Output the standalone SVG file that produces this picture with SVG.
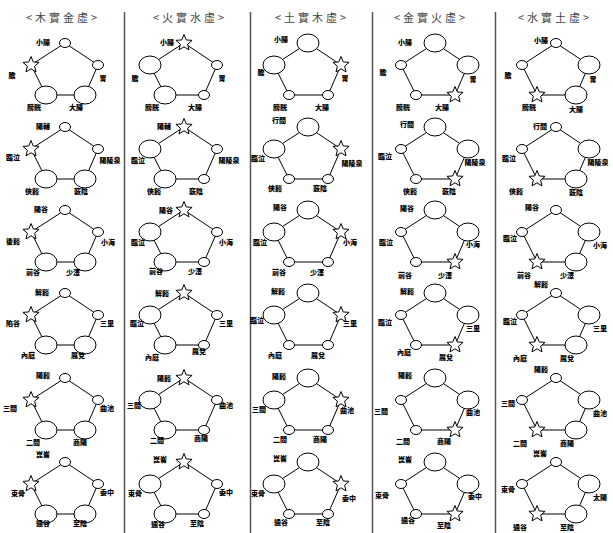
<svg xmlns="http://www.w3.org/2000/svg" xmlns:xlink="http://www.w3.org/1999/xlink" width="613" height="533" viewBox="0 0 613 533">
<style>
.n{fill:#fff;stroke:#000;stroke-width:1}
.e{fill:none;stroke:#000;stroke-width:1}
.lb{font-family:"Noto Sans CJK TC","Noto Sans CJK JP",sans-serif;font-size:7px;font-weight:900;text-anchor:middle;fill:#000}
.hd{font-family:"Noto Sans CJK TC","Noto Sans CJK JP",sans-serif;font-size:11px;letter-spacing:3px;text-anchor:middle;fill:#444}
.dv{stroke:#555;stroke-width:1.5}
</style>
<defs>
<ellipse id="sm" class="n" rx="5.5" ry="4.5"/>
<ellipse id="lg" class="n" rx="11" ry="9"/>
<polygon id="st" class="n" points="0,-8.5 2.23,-3.07 8.08,-2.63 3.61,1.17 5,6.88 0,3.8 -5,6.88 -3.61,1.17 -8.08,-2.63 -2.23,-3.07"/>
<polygon id="pent" class="e" points="0,-29 33,-7 20,23 -19,23 -34,-7"/>
</defs>
<g id="headers">
<text class="hd" x="63" y="22">&lt;木實金虛&gt;</text>
<text class="hd" x="190" y="22">&lt;火實水虛&gt;</text>
<text class="hd" x="312" y="22">&lt;土實木虛&gt;</text>
<text class="hd" x="431" y="22">&lt;金實火虛&gt;</text>
<text class="hd" x="555" y="22">&lt;水實土虛&gt;</text>
</g>
<g id="dividers">
<line class="dv" x1="124.5" y1="12" x2="124.5" y2="533"/>
<line class="dv" x1="250.5" y1="12" x2="250.5" y2="533"/>
<line class="dv" x1="372.5" y1="12" x2="372.5" y2="533"/>
<line class="dv" x1="495.5" y1="12" x2="495.5" y2="533"/>
</g>
<g id="connectors">
<use href="#pent" x="65" y="72"/><use href="#pent" x="65" y="156"/><use href="#pent" x="65" y="239"/><use href="#pent" x="65" y="322"/><use href="#pent" x="65" y="407"/><use href="#pent" x="65" y="491"/>
<use href="#pent" x="184" y="72"/><use href="#pent" x="184" y="156"/><use href="#pent" x="184" y="239"/><use href="#pent" x="184" y="322"/><use href="#pent" x="184" y="407"/><use href="#pent" x="184" y="491"/>
<use href="#pent" x="308" y="72"/><use href="#pent" x="308" y="156"/><use href="#pent" x="308" y="239"/><use href="#pent" x="308" y="322"/><use href="#pent" x="308" y="407"/><use href="#pent" x="308" y="491"/>
<use href="#pent" x="435" y="72"/><use href="#pent" x="435" y="156"/><use href="#pent" x="435" y="239"/><use href="#pent" x="435" y="322"/><use href="#pent" x="435" y="407"/><use href="#pent" x="435" y="491"/>
<use href="#pent" x="556" y="72"/><use href="#pent" x="556" y="156"/><use href="#pent" x="556" y="239"/><use href="#pent" x="556" y="322"/><use href="#pent" x="556" y="407"/><use href="#pent" x="556" y="491"/>
</g>

<!-- Column 1: T sm, R sm, BR lg, BL lg, L star -->
<g id="c1r1" transform="translate(65,72)">
<g id="c1r1-t"><use href="#sm" y="-29"/><text class="lb" x="-22" y="-27">小腸</text></g>
<g id="c1r1-r"><use href="#sm" x="33" y="-7"/><text class="lb" x="38" y="9">胃</text></g>
<g id="c1r1-br"><use href="#lg" x="20" y="23"/><text class="lb" x="11" y="38">大腸</text></g>
<g id="c1r1-bl"><use href="#lg" x="-19" y="23"/><text class="lb" x="-31" y="38">膀胱</text></g>
<g id="c1r1-l"><use href="#st" x="-34" y="-7"/><text class="lb" x="-53" y="6">膽</text></g>
</g>
<g id="c1r2" transform="translate(65,156)">
<g id="c1r2-t"><use href="#sm" y="-29"/><text class="lb" x="-22" y="-27">陽輔</text></g>
<g id="c1r2-r"><use href="#sm" x="33" y="-7"/><text class="lb" x="45" y="7">陽陵泉</text></g>
<g id="c1r2-br"><use href="#lg" x="20" y="23"/><text class="lb" x="16" y="38">竅陰</text></g>
<g id="c1r2-bl"><use href="#lg" x="-19" y="23"/><text class="lb" x="-33" y="38">俠谿</text></g>
<g id="c1r2-l"><use href="#st" x="-34" y="-7"/><text class="lb" x="-52" y="4">臨泣</text></g>
</g>
<g id="c1r3" transform="translate(65,239)">
<g id="c1r3-t"><use href="#sm" y="-29"/><text class="lb" x="-24" y="-27">陽谷</text></g>
<g id="c1r3-r"><use href="#sm" x="33" y="-7"/><text class="lb" x="43" y="6">小海</text></g>
<g id="c1r3-br"><use href="#lg" x="20" y="23"/><text class="lb" x="8" y="36">少澤</text></g>
<g id="c1r3-bl"><use href="#lg" x="-19" y="23"/><text class="lb" x="-32" y="36">前谷</text></g>
<g id="c1r3-l"><use href="#st" x="-34" y="-7"/><text class="lb" x="-52" y="5">後谿</text></g>
</g>
<g id="c1r4" transform="translate(65,322)">
<g id="c1r4-t"><use href="#sm" y="-29"/><text class="lb" x="-23" y="-27">解谿</text></g>
<g id="c1r4-r"><use href="#sm" x="33" y="-7"/><text class="lb" x="42" y="4">三里</text></g>
<g id="c1r4-br"><use href="#lg" x="20" y="23"/><text class="lb" x="13" y="36">厲兌</text></g>
<g id="c1r4-bl"><use href="#lg" x="-19" y="23"/><text class="lb" x="-37" y="36">內庭</text></g>
<g id="c1r4-l"><use href="#st" x="-34" y="-7"/><text class="lb" x="-52" y="4">陷谷</text></g>
</g>
<g id="c1r5" transform="translate(65,407)">
<g id="c1r5-t"><use href="#sm" y="-29"/><text class="lb" x="-22" y="-29">陽谿</text></g>
<g id="c1r5-r"><use href="#sm" x="33" y="-7"/><text class="lb" x="42" y="4">曲池</text></g>
<g id="c1r5-br"><use href="#lg" x="20" y="23"/><text class="lb" x="15" y="38">商陽</text></g>
<g id="c1r5-bl"><use href="#lg" x="-19" y="23"/><text class="lb" x="-32" y="38">二間</text></g>
<g id="c1r5-l"><use href="#st" x="-34" y="-7"/><text class="lb" x="-55" y="4">三間</text></g>
</g>
<g id="c1r6" transform="translate(65,491)">
<g id="c1r6-t"><use href="#sm" y="-29"/><text class="lb" x="-22" y="-34">崑崙</text></g>
<g id="c1r6-r"><use href="#sm" x="33" y="-7"/><text class="lb" x="42" y="4">委中</text></g>
<g id="c1r6-br"><use href="#lg" x="20" y="23"/><text class="lb" x="15" y="35">至陰</text></g>
<g id="c1r6-bl"><use href="#lg" x="-19" y="23"/><text class="lb" x="-22" y="35">通谷</text></g>
<g id="c1r6-l"><use href="#st" x="-34" y="-7"/><text class="lb" x="-47" y="5">束骨</text></g>
</g>

<!-- Column 2: T star, R sm, BR sm, BL lg, L lg -->
<g id="c2r1" transform="translate(184,72)">
<g id="c2r1-t"><use href="#st" y="-29"/><text class="lb" x="-17" y="-27">小腸</text></g>
<g id="c2r1-r"><use href="#sm" x="33" y="-7"/><text class="lb" x="38" y="9">胃</text></g>
<g id="c2r1-br"><use href="#sm" x="20" y="23"/><text class="lb" x="11" y="38">大腸</text></g>
<g id="c2r1-bl"><use href="#lg" x="-19" y="23"/><text class="lb" x="-32" y="38">膀胱</text></g>
<g id="c2r1-l"><use href="#lg" x="-34" y="-7"/><text class="lb" x="-49" y="9">膽</text></g>
</g>
<g id="c2r2" transform="translate(184,156)">
<g id="c2r2-t"><use href="#st" y="-29"/><text class="lb" x="-20" y="-27">陽輔</text></g>
<g id="c2r2-r"><use href="#sm" x="33" y="-7"/><text class="lb" x="45" y="7">陽陵泉</text></g>
<g id="c2r2-br"><use href="#sm" x="20" y="23"/><text class="lb" x="12" y="38">竅陰</text></g>
<g id="c2r2-bl"><use href="#lg" x="-19" y="23"/><text class="lb" x="-30" y="38">俠谿</text></g>
<g id="c2r2-l"><use href="#lg" x="-34" y="-7"/><text class="lb" x="-46" y="7">臨泣</text></g>
</g>
<g id="c2r3" transform="translate(184,239)">
<g id="c2r3-t"><use href="#st" y="-29"/><text class="lb" x="-18" y="-26">陽谷</text></g>
<g id="c2r3-r"><use href="#sm" x="33" y="-7"/><text class="lb" x="42" y="6">小海</text></g>
<g id="c2r3-br"><use href="#sm" x="20" y="23"/><text class="lb" x="11" y="35">少澤</text></g>
<g id="c2r3-bl"><use href="#lg" x="-19" y="23"/><text class="lb" x="-28" y="35">前谷</text></g>
<g id="c2r3-l"><use href="#lg" x="-34" y="-7"/><text class="lb" x="-46" y="6">臨泣</text></g>
</g>
<g id="c2r4" transform="translate(184,322)">
<g id="c2r4-t"><use href="#st" y="-29"/><text class="lb" x="-22" y="-26">解谿</text></g>
<g id="c2r4-r"><use href="#sm" x="33" y="-7"/><text class="lb" x="42" y="4">三里</text></g>
<g id="c2r4-br"><use href="#sm" x="20" y="23"/><text class="lb" x="15" y="32">厲兌</text></g>
<g id="c2r4-bl"><use href="#lg" x="-19" y="23"/><text class="lb" x="-32" y="38">內庭</text></g>
<g id="c2r4-l"><use href="#lg" x="-34" y="-7"/><text class="lb" x="-47" y="4">臨泣</text></g>
</g>
<g id="c2r5" transform="translate(184,407)">
<g id="c2r5-t"><use href="#st" y="-29"/><text class="lb" x="-20" y="-26">陽谿</text></g>
<g id="c2r5-r"><use href="#sm" x="33" y="-7"/><text class="lb" x="42" y="1">曲池</text></g>
<g id="c2r5-br"><use href="#sm" x="20" y="23"/><text class="lb" x="17" y="34">商陽</text></g>
<g id="c2r5-bl"><use href="#lg" x="-19" y="23"/><text class="lb" x="-27" y="36">二間</text></g>
<g id="c2r5-l"><use href="#lg" x="-34" y="-7"/><text class="lb" x="-50" y="1">三間</text></g>
</g>
<g id="c2r6" transform="translate(184,491)">
<g id="c2r6-t"><use href="#st" y="-29"/><text class="lb" x="-24" y="-29">崑崙</text></g>
<g id="c2r6-r"><use href="#sm" x="33" y="-7"/><text class="lb" x="42" y="4">委中</text></g>
<g id="c2r6-br"><use href="#sm" x="20" y="23"/><text class="lb" x="13" y="35">至陰</text></g>
<g id="c2r6-bl"><use href="#lg" x="-19" y="23"/><text class="lb" x="-26" y="36">通谷</text></g>
<g id="c2r6-l"><use href="#lg" x="-34" y="-7"/><text class="lb" x="-49" y="5">束骨</text></g>
</g>

<!-- Column 3: T lg, R star, BR sm, BL sm, L lg -->
<g id="c3r1" transform="translate(308,72)">
<g id="c3r1-t"><use href="#lg" y="-29"/><text class="lb" x="-27" y="-30">小腸</text></g>
<g id="c3r1-r"><use href="#st" x="33" y="-7"/><text class="lb" x="37" y="9">胃</text></g>
<g id="c3r1-br"><use href="#sm" x="20" y="23"/><text class="lb" x="14" y="38">大腸</text></g>
<g id="c3r1-bl"><use href="#sm" x="-19" y="23"/><text class="lb" x="-28" y="38">膀胱</text></g>
<g id="c3r1-l"><use href="#lg" x="-34" y="-7"/><text class="lb" x="-47" y="3">膽</text></g>
</g>
<g id="c3r2" transform="translate(308,156)">
<g id="c3r2-t"><use href="#lg" y="-29"/><text class="lb" x="-29" y="-33">行間</text></g>
<g id="c3r2-r"><use href="#st" x="33" y="-7"/><text class="lb" x="44" y="10">陽陵泉</text></g>
<g id="c3r2-br"><use href="#sm" x="20" y="23"/><text class="lb" x="12" y="35">竅陰</text></g>
<g id="c3r2-bl"><use href="#sm" x="-19" y="23"/><text class="lb" x="-33" y="35">俠谿</text></g>
<g id="c3r2-l"><use href="#lg" x="-34" y="-7"/><text class="lb" x="-50" y="5">臨泣</text></g>
</g>
<g id="c3r3" transform="translate(308,239)">
<g id="c3r3-t"><use href="#lg" y="-29"/><text class="lb" x="-28" y="-29">陽谷</text></g>
<g id="c3r3-r"><use href="#st" x="33" y="-7"/><text class="lb" x="42" y="6">小海</text></g>
<g id="c3r3-br"><use href="#sm" x="20" y="23"/><text class="lb" x="9" y="36">少澤</text></g>
<g id="c3r3-bl"><use href="#sm" x="-19" y="23"/><text class="lb" x="-29" y="36">前谷</text></g>
<g id="c3r3-l"><use href="#lg" x="-34" y="-7"/><text class="lb" x="-48" y="6">臨泣</text></g>
</g>
<g id="c3r4" transform="translate(308,322)">
<g id="c3r4-t"><use href="#lg" y="-29"/><text class="lb" x="-30" y="-28">解谿</text></g>
<g id="c3r4-r"><use href="#st" x="33" y="-7"/><text class="lb" x="42" y="4">三里</text></g>
<g id="c3r4-br"><use href="#sm" x="20" y="23"/><text class="lb" x="10" y="36">厲兌</text></g>
<g id="c3r4-bl"><use href="#sm" x="-19" y="23"/><text class="lb" x="-33" y="36">內庭</text></g>
<g id="c3r4-l"><use href="#lg" x="-34" y="-7"/><text class="lb" x="-51" y="1">臨泣</text></g>
</g>
<g id="c3r5" transform="translate(308,407)">
<g id="c3r5-t"><use href="#lg" y="-29"/><text class="lb" x="-29" y="-28">陽谿</text></g>
<g id="c3r5-r"><use href="#st" x="33" y="-7"/><text class="lb" x="39" y="6">曲池</text></g>
<g id="c3r5-br"><use href="#sm" x="20" y="23"/><text class="lb" x="12" y="35">商陽</text></g>
<g id="c3r5-bl"><use href="#sm" x="-19" y="23"/><text class="lb" x="-28" y="35">二間</text></g>
<g id="c3r5-l"><use href="#lg" x="-34" y="-7"/><text class="lb" x="-49" y="5">三間</text></g>
</g>
<g id="c3r6" transform="translate(308,491)">
<g id="c3r6-t"><use href="#lg" y="-29"/><text class="lb" x="-28" y="-30">崑崙</text></g>
<g id="c3r6-r"><use href="#st" x="33" y="-7"/><text class="lb" x="41" y="10">委中</text></g>
<g id="c3r6-br"><use href="#sm" x="20" y="23"/><text class="lb" x="15" y="34">至陰</text></g>
<g id="c3r6-bl"><use href="#sm" x="-19" y="23"/><text class="lb" x="-27" y="34">通谷</text></g>
<g id="c3r6-l"><use href="#lg" x="-34" y="-7"/><text class="lb" x="-50" y="5">束骨</text></g>
</g>

<!-- Column 4: T lg, R lg, BR star, BL sm, L sm -->
<g id="c4r1" transform="translate(435,72)">
<g id="c4r1-t"><use href="#lg" y="-29"/><text class="lb" x="-30" y="-27">小腸</text></g>
<g id="c4r1-r"><use href="#lg" x="33" y="-7"/><text class="lb" x="38" y="10">胃</text></g>
<g id="c4r1-br"><use href="#st" x="20" y="23"/><text class="lb" x="7" y="38">大腸</text></g>
<g id="c4r1-bl"><use href="#sm" x="-19" y="23"/><text class="lb" x="-32" y="38">膀胱</text></g>
<g id="c4r1-l"><use href="#sm" x="-34" y="-7"/><text class="lb" x="-52" y="3">膽</text></g>
</g>
<g id="c4r2" transform="translate(435,156)">
<g id="c4r2-t"><use href="#lg" y="-29"/><text class="lb" x="-28" y="-29">行間</text></g>
<g id="c4r2-r"><use href="#lg" x="33" y="-7"/><text class="lb" x="40" y="9">陽陵泉</text></g>
<g id="c4r2-br"><use href="#st" x="20" y="23"/><text class="lb" x="14" y="38">竅陰</text></g>
<g id="c4r2-bl"><use href="#sm" x="-19" y="23"/><text class="lb" x="-25" y="38">俠谿</text></g>
<g id="c4r2-l"><use href="#sm" x="-34" y="-7"/><text class="lb" x="-50" y="3">臨泣</text></g>
</g>
<g id="c4r3" transform="translate(435,239)">
<g id="c4r3-t"><use href="#lg" y="-29"/><text class="lb" x="-28" y="-28">陽谷</text></g>
<g id="c4r3-r"><use href="#lg" x="33" y="-7"/><text class="lb" x="38" y="8">小海</text></g>
<g id="c4r3-br"><use href="#st" x="20" y="23"/><text class="lb" x="10" y="39">少澤</text></g>
<g id="c4r3-bl"><use href="#sm" x="-19" y="23"/><text class="lb" x="-30" y="39">前谷</text></g>
<g id="c4r3-l"><use href="#sm" x="-34" y="-7"/><text class="lb" x="-49" y="6">臨泣</text></g>
</g>
<g id="c4r4" transform="translate(435,322)">
<g id="c4r4-t"><use href="#lg" y="-29"/><text class="lb" x="-28" y="-28">解谿</text></g>
<g id="c4r4-r"><use href="#lg" x="33" y="-7"/><text class="lb" x="38" y="9">三里</text></g>
<g id="c4r4-br"><use href="#st" x="20" y="23"/><text class="lb" x="11" y="38">厲兌</text></g>
<g id="c4r4-bl"><use href="#sm" x="-19" y="23"/><text class="lb" x="-31" y="33">內庭</text></g>
<g id="c4r4-l"><use href="#sm" x="-34" y="-7"/><text class="lb" x="-50" y="3">臨泣</text></g>
</g>
<g id="c4r5" transform="translate(435,407)">
<g id="c4r5-t"><use href="#lg" y="-29"/><text class="lb" x="-30" y="-29">陽谿</text></g>
<g id="c4r5-r"><use href="#lg" x="33" y="-7"/><text class="lb" x="38" y="8">曲池</text></g>
<g id="c4r5-br"><use href="#st" x="20" y="23"/><text class="lb" x="9" y="37">商陽</text></g>
<g id="c4r5-bl"><use href="#sm" x="-19" y="23"/><text class="lb" x="-32" y="37">二間</text></g>
<g id="c4r5-l"><use href="#sm" x="-34" y="-7"/><text class="lb" x="-54" y="7">三間</text></g>
</g>
<g id="c4r6" transform="translate(435,491)">
<g id="c4r6-t"><use href="#lg" y="-29"/><text class="lb" x="-30" y="-29">崑崙</text></g>
<g id="c4r6-r"><use href="#lg" x="33" y="-7"/><text class="lb" x="40" y="8">委中</text></g>
<g id="c4r6-br"><use href="#st" x="20" y="23"/><text class="lb" x="9" y="37">至陰</text></g>
<g id="c4r6-bl"><use href="#sm" x="-19" y="23"/><text class="lb" x="-27" y="32">通谷</text></g>
<g id="c4r6-l"><use href="#sm" x="-34" y="-7"/><text class="lb" x="-53" y="7">束骨</text></g>
</g>

<!-- Column 5: T sm, R lg, BR lg, BL star, L sm -->
<g id="c5r1" transform="translate(556,72)">
<g id="c5r1-t"><use href="#sm" y="-29"/><text class="lb" x="-15" y="-29">小腸</text></g>
<g id="c5r1-r"><use href="#lg" x="33" y="-7"/><text class="lb" x="37" y="10">胃</text></g>
<g id="c5r1-br"><use href="#lg" x="20" y="23"/><text class="lb" x="20" y="40">大腸</text></g>
<g id="c5r1-bl"><use href="#st" x="-19" y="23"/><text class="lb" x="-27" y="38">膀胱</text></g>
<g id="c5r1-l"><use href="#sm" x="-34" y="-7"/><text class="lb" x="-48" y="6">膽</text></g>
</g>
<g id="c5r2" transform="translate(556,156)">
<g id="c5r2-t"><use href="#sm" y="-29"/><text class="lb" x="-16" y="-27">行間</text></g>
<g id="c5r2-r"><use href="#lg" x="33" y="-7"/><text class="lb" x="42" y="9">陽陵泉</text></g>
<g id="c5r2-br"><use href="#lg" x="20" y="23"/><text class="lb" x="20" y="39">竅陰</text></g>
<g id="c5r2-bl"><use href="#st" x="-19" y="23"/><text class="lb" x="-40" y="38">俠谿</text></g>
<g id="c5r2-l"><use href="#sm" x="-34" y="-7"/><text class="lb" x="-47" y="5">臨泣</text></g>
</g>
<g id="c5r3" transform="translate(556,239)">
<g id="c5r3-t"><use href="#sm" y="-29"/><text class="lb" x="-24" y="-29">陽谷</text></g>
<g id="c5r3-r"><use href="#lg" x="33" y="-7"/><text class="lb" x="44" y="9">小海</text></g>
<g id="c5r3-br"><use href="#lg" x="20" y="23"/><text class="lb" x="11" y="39">少澤</text></g>
<g id="c5r3-bl"><use href="#st" x="-19" y="23"/><text class="lb" x="-32" y="39">前谷</text></g>
<g id="c5r3-l"><use href="#sm" x="-34" y="-7"/><text class="lb" x="-46" y="2">臨泣</text></g>
</g>
<g id="c5r4" transform="translate(556,322)">
<g id="c5r4-t"><use href="#sm" y="-29"/><text class="lb" x="-15" y="-35">解谿</text></g>
<g id="c5r4-r"><use href="#lg" x="33" y="-7"/><text class="lb" x="44" y="9">三里</text></g>
<g id="c5r4-br"><use href="#lg" x="20" y="23"/><text class="lb" x="11" y="39">厲兌</text></g>
<g id="c5r4-bl"><use href="#st" x="-19" y="23"/><text class="lb" x="-36" y="39">內庭</text></g>
<g id="c5r4-l"><use href="#sm" x="-34" y="-7"/><text class="lb" x="-46" y="2">臨泣</text></g>
</g>
<g id="c5r5" transform="translate(556,407)">
<g id="c5r5-t"><use href="#sm" y="-29"/><text class="lb" x="-15" y="-35">陽谿</text></g>
<g id="c5r5-r"><use href="#lg" x="33" y="-7"/><text class="lb" x="44" y="9">曲池</text></g>
<g id="c5r5-br"><use href="#lg" x="20" y="23"/><text class="lb" x="11" y="39">商陽</text></g>
<g id="c5r5-bl"><use href="#st" x="-19" y="23"/><text class="lb" x="-36" y="39">二間</text></g>
<g id="c5r5-l"><use href="#sm" x="-34" y="-7"/><text class="lb" x="-48" y="-1">三間</text></g>
</g>
<g id="c5r6" transform="translate(556,491)">
<g id="c5r6-t"><use href="#sm" y="-29"/><text class="lb" x="-16" y="-35">崑崙</text></g>
<g id="c5r6-r"><use href="#lg" x="33" y="-7"/><text class="lb" x="44" y="9">太陽</text></g>
<g id="c5r6-br"><use href="#lg" x="20" y="23"/><text class="lb" x="11" y="39">至陰</text></g>
<g id="c5r6-bl"><use href="#st" x="-19" y="23"/><text class="lb" x="-36" y="39">通谷</text></g>
<g id="c5r6-l"><use href="#sm" x="-34" y="-7"/><text class="lb" x="-48" y="1">束骨</text></g>
</g>
</svg>
